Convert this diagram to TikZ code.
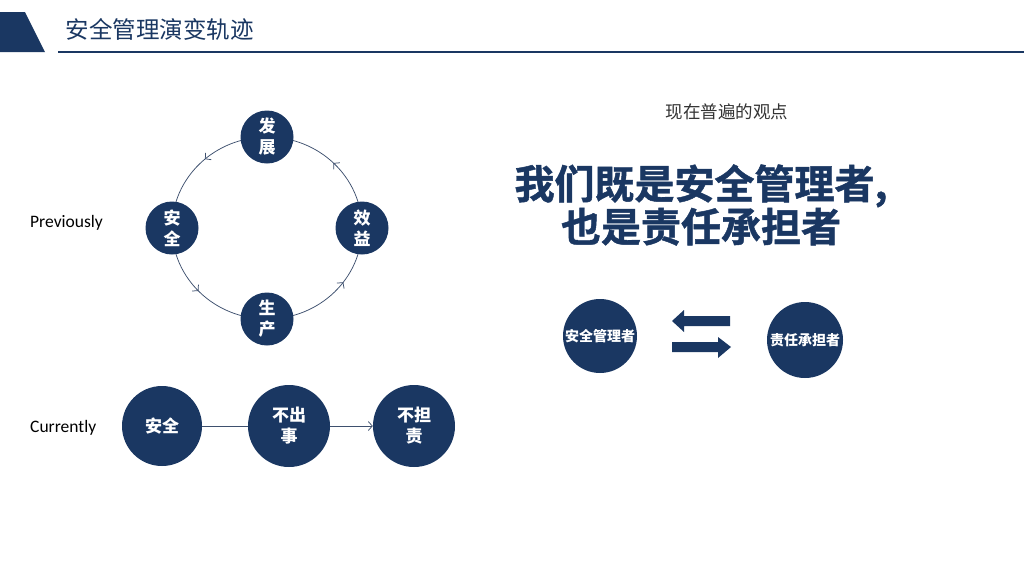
\documentclass[tikz,border=0pt]{standalone}
\usepackage{fontspec}
\setmainfont{Noto Sans CJK SC}
\newfontfamily\latinfont{Carlito}
\newfontfamily\heavyfont[BoldFont={* Bold},BoldFeatures={FakeBold=1.2}]{Noto Sans CJK SC}
\usetikzlibrary{arrows.meta,decorations.markings,backgrounds}
\definecolor{navy}{RGB}{26,55,98}
\definecolor{linegray}{RGB}{62,80,110}
\tikzset{
  dot/.style={circle,fill=navy,text=white,font=\bfseries\fontsize{17}{21}\selectfont,
    align=center,inner sep=0pt,minimum size=#1},
  dot/.default=53pt,
  ring/.style={draw=linegray,line width=0.75pt,postaction={decorate},
    decoration={markings,mark=at position #1 with {\arrow{Straight Barb[length=4pt,width=9pt]}}}},
  ring/.default=0.5,
  ringarc/.style={x radius=95,y radius=91},
  label/.style={anchor=west,inner sep=0pt,font=\latinfont\fontsize{17.5}{20}\selectfont},
  blockarrow/.style={fill=navy,draw=none}
}
\begin{document}
\begin{tikzpicture}[x=1pt,y=1pt]
  \useasboundingbox (0,0) rectangle (1024,-576);
  % header
  \fill[navy] (0,-12) -- (25,-12) -- (45,-52) -- (0,-52) -- cycle;
  \draw[navy,line width=1.8pt] (58,-52) -- (1024,-52);
  \node[anchor=west,text=navy,font=\fontsize{23.5}{26}\selectfont] (title) at (62,-29) {安全管理演变轨迹};

  % previously: the cycle
  \node[label] (prev) at (30,-223) {Previously};
  \node[dot] (fz) at (267,-137) {发\\展};
  \node[dot] (aq) at (172,-228) {安\\全};
  \node[dot] (xy) at (362,-228) {效\\益};
  \node[dot] (sc) at (267,-319) {生\\产};
  \begin{scope}[on background layer]
    \draw[ring=0.46] (fz.center) arc[start angle=90,end angle=180,ringarc];
    \draw[ring=0.48] (aq.center) arc[start angle=180,end angle=270,ringarc];
    \draw[ring=0.6]  (sc.center) arc[start angle=270,end angle=360,ringarc];
    \draw[ring=0.5]  (xy.center) arc[start angle=0,end angle=90,ringarc];
  \end{scope}

  % currently: the chain
  \node[label] (curr) at (30,-428) {Currently};
  \node[dot=80pt] (aq2) at (162,-426) {安全};
  \node[dot=82pt] (bcs) at (289,-426) {不出\\事};
  \node[dot=82pt] (bdz) at (414,-426) {不担\\责};
  \draw[linegray,line width=0.75pt] (aq2) -- (bcs);
  \draw[linegray,line width=0.75pt,-{Straight Barb[length=4pt,width=9pt]}] (bcs) -- (bdz);

  % right side
  \node[text=black!80,font=\fontsize{17.5}{20}\selectfont] (view) at (727,-112) {现在普遍的观点};
  \node[text=navy,font=\heavyfont\bfseries\fontsize{40}{43}\selectfont,align=center] (big) at (701,-205)
    {我们既是安全管理者,\\也是责任承担者};
  \node[dot=74pt,font=\bfseries\fontsize{14}{16}\selectfont] (glz) at (600,-336) {安全管理者};
  \node[dot=76pt,font=\bfseries\fontsize{14}{16}\selectfont] (zrz) at (805,-340) {责任承担者};
  % swap arrows
  \fill[blockarrow] (672,-321) -- (684,-310) -- (684,-316) -- (730,-316) -- (730,-326)
    -- (684,-326) -- (684,-332) -- cycle;
  \fill[blockarrow] (731,-347) -- (718,-337) -- (718,-342) -- (672,-342) -- (672,-352)
    -- (718,-352) -- (718,-358) -- cycle;
\end{tikzpicture}
\end{document}
